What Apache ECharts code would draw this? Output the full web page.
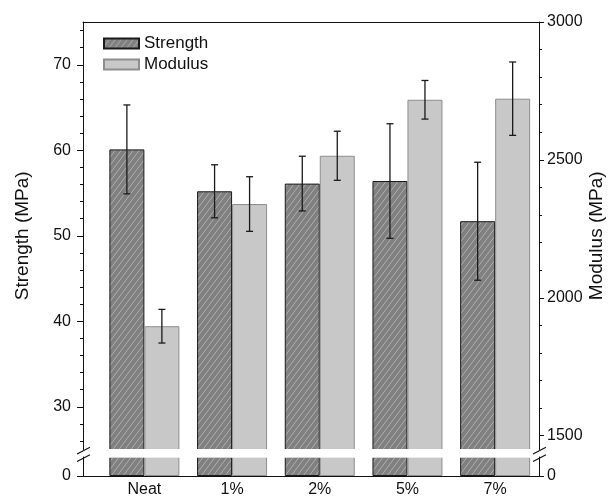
<!DOCTYPE html>
<html><head><meta charset="utf-8">
<script src="https://cdn.jsdelivr.net/npm/echarts@6/dist/echarts.min.js"></script>
<style>html,body{margin:0;padding:0;background:#fff}#c{width:608px;height:498px}</style>
</head><body><div id="c"></div>
<script>
// ---- data ----
const categories = ['Neat', '1%', '2%', '5%', '7%'];
const strength = [60.1, 55.2, 56.1, 56.4, 51.7];
const strengthErr = [5.2, 3.1, 3.2, 6.7, 6.9];
const modulus = [1897, 2340, 2515, 2718, 2722];
const modulusErr = [61, 99, 89, 70, 133];
const strengthTicks = [30, 40, 50, 60, 70];
const strengthMinorTicks = [26, 28, 32, 34, 36, 38, 42, 44, 46, 48, 52, 54, 56, 58, 62, 64, 66, 68, 72, 74];
const modulusTicks = [1500, 2000, 2500, 3000];
const modulusMinorTicks = [1600, 1700, 1800, 1900, 2100, 2200, 2300, 2400, 2600, 2700, 2800, 2900];
const zeroTicks = [0];

// ---- style ----
const FONT = 'Liberation Sans, Arial, sans-serif';
const BAR_W = 35;
const AX = '#111';

function hatch() {
  const c = document.createElement('canvas');
  c.width = 6; c.height = 8;
  const g = c.getContext('2d');
  g.fillStyle = '#808080'; g.fillRect(0, 0, 6, 8);
  g.strokeStyle = 'rgba(210,210,210,0.8)'; g.lineWidth = 0.7;
  g.beginPath();
  g.moveTo(-6, 8); g.lineTo(0, 0);
  g.moveTo(0, 8); g.lineTo(6, 0);
  g.moveTo(6, 8); g.lineTo(12, 0);
  g.stroke();
  return c;
}
const strengthStyle = { color: { image: hatch(), repeat: 'repeat' }, borderColor: '#1a1a1a', borderWidth: 1 };
const modulusStyle = { color: '#c8c8c8', borderColor: '#8e8e8e', borderWidth: 1 };

function errRender(offset) {
  return function (params, api) {
    const x = api.value(0);
    const lo = api.coord([x, api.value(1)]);
    const hi = api.coord([x, api.value(2)]);
    const cx = lo[0] + offset, cap = 3.5;
    const st = { stroke: '#1a1a1a', lineWidth: 1.3 };
    return { type: 'group', children: [
      { type: 'line', shape: { x1: cx, y1: hi[1], x2: cx, y2: lo[1] }, style: st },
      { type: 'line', shape: { x1: cx - cap, y1: hi[1], x2: cx + cap, y2: hi[1] }, style: st },
      { type: 'line', shape: { x1: cx - cap, y1: lo[1], x2: cx + cap, y2: lo[1] }, style: st }
    ]};
  };
}

function yAx(o) {
  return Object.assign({
    type: 'value', splitLine: { show: false },
    axisLine: { show: true, onZero: false, lineStyle: { color: AX, width: 1 } },
    axisTick: { show: true, lineStyle: { color: AX } },
    axisLabel: { color: '#111', fontSize: 16, fontFamily: FONT }
  }, o);
}
const plain = v => String(v);

const sIdx = categories.map((c, i) => i);
const chart = echarts.init(document.getElementById('c'), null, { renderer: 'canvas' });
chart.setOption({
  animation: false,
  backgroundColor: '#fff',
  textStyle: { fontFamily: FONT },
  grid: [
    { left: 83, right: 69, top: 22, height: 427.5, containLabel: false, outerBoundsMode: 'none' },
    { left: 83, right: 69, top: 457, height: 19, containLabel: false, outerBoundsMode: 'none' }
  ],
  legend: {
    left: 98, top: 30, orient: 'vertical', icon: 'rect',
    itemWidth: 35, itemHeight: 10, itemGap: 4,
    textStyle: { fontSize: 17, color: '#111', fontFamily: FONT },
    data: ['Strength', 'Modulus']
  },
  xAxis: [
    { gridIndex: 0, type: 'value', min: -0.7, max: 4.5, position: 'top',
      axisLine: { show: true, onZero: false, lineStyle: { color: AX } },
      axisTick: { show: false }, axisLabel: { show: false }, splitLine: { show: false } },
    { gridIndex: 1, type: 'value', min: -0.7, max: 4.5, position: 'bottom',
      axisLine: { show: true, onZero: false, lineStyle: { color: AX } },
      axisTick: { show: false }, splitLine: { show: false },
      axisLabel: { customValues: sIdx, formatter: v => categories[Math.round(v)] || '',
        fontSize: 16, color: '#111', fontFamily: FONT, margin: 6 } }
  ],
  yAxis: [
    yAx({ gridIndex: 0, position: 'left', min: 25, max: 75,
      axisTick: { show: true, length: 6, customValues: strengthTicks, lineStyle: { color: AX } },
      axisLabel: { customValues: strengthTicks, formatter: plain, fontSize: 16, color: '#111', fontFamily: FONT, margin: 12 },
      name: 'Strength (MPa)', nameLocation: 'middle', nameRotate: 90, nameGap: 51, nameMoveOverlap: false,
      nameTextStyle: { fontSize: 19, color: '#111', fontFamily: FONT } }),
    yAx({ gridIndex: 0, position: 'left', min: 25, max: 75,
      axisLine: { show: false, onZero: false },
      axisTick: { show: true, length: 3, customValues: strengthMinorTicks, lineStyle: { color: AX } },
      axisLabel: { show: false } }),
    yAx({ gridIndex: 0, position: 'right', min: 1450, max: 3000,
      axisTick: { show: true, length: 5, customValues: modulusTicks, lineStyle: { color: AX } },
      axisLabel: { customValues: modulusTicks, formatter: plain, fontSize: 16, color: '#111', fontFamily: FONT, margin: 8 },
      name: 'Modulus (MPa)', nameLocation: 'middle', nameRotate: 90, nameGap: 48, nameMoveOverlap: false,
      nameTextStyle: { fontSize: 19, color: '#111', fontFamily: FONT } }),
    yAx({ gridIndex: 0, position: 'right', min: 1450, max: 3000,
      axisLine: { show: false, onZero: false },
      axisTick: { show: true, length: 3, customValues: modulusMinorTicks, lineStyle: { color: AX } },
      axisLabel: { show: false } }),
    yAx({ gridIndex: 1, position: 'left', min: 0, max: 2.22,
      axisTick: { show: true, length: 6, customValues: zeroTicks, lineStyle: { color: AX } },
      axisLabel: { customValues: zeroTicks, formatter: plain, fontSize: 16, color: '#111', fontFamily: FONT, margin: 12 } }),
    yAx({ gridIndex: 1, position: 'right', min: 0, max: 69,
      axisTick: { show: true, length: 5, customValues: zeroTicks, lineStyle: { color: AX } },
      axisLabel: { customValues: zeroTicks, formatter: plain, fontSize: 16, color: '#111', fontFamily: FONT, margin: 8 } })
  ],
  series: [
    { name: 'Strength', type: 'bar', xAxisIndex: 0, yAxisIndex: 0, clip: true, barWidth: BAR_W, barGap: '0%',
      itemStyle: strengthStyle, data: sIdx.map(i => [i, strength[i]]) },
    { name: 'Modulus', type: 'bar', xAxisIndex: 0, yAxisIndex: 2, clip: true, barWidth: BAR_W, barGap: '0%',
      itemStyle: modulusStyle, data: sIdx.map(i => [i, modulus[i]]) },
    { name: 'Strength', type: 'bar', xAxisIndex: 1, yAxisIndex: 4, clip: true, barWidth: BAR_W, barGap: '0%',
      itemStyle: strengthStyle, data: sIdx.map(i => [i, strength[i]]) },
    { name: 'Modulus', type: 'bar', xAxisIndex: 1, yAxisIndex: 5, clip: true, barWidth: BAR_W, barGap: '0%',
      itemStyle: modulusStyle, data: sIdx.map(i => [i, modulus[i]]) },
    { name: 'Strength', type: 'custom', xAxisIndex: 0, yAxisIndex: 0, z: 5,
      renderItem: errRender(-BAR_W / 2), encode: { x: 0, y: [1, 2] },
      data: sIdx.map(i => [i, strength[i] - strengthErr[i], strength[i] + strengthErr[i]]) },
    { name: 'Modulus', type: 'custom', xAxisIndex: 0, yAxisIndex: 2, z: 5,
      renderItem: errRender(BAR_W / 2), encode: { x: 0, y: [1, 2] },
      data: sIdx.map(i => [i, modulus[i] - modulusErr[i], modulus[i] + modulusErr[i]]) }
  ]
});

// axis-break band and marks
const yTop = chart.convertToPixel({ yAxisIndex: 0 }, 25);
const yBot = chart.convertToPixel({ yAxisIndex: 4 }, 2.22);
const xL = chart.convertToPixel({ xAxisIndex: 1 }, -0.7);
const xR = chart.convertToPixel({ xAxisIndex: 1 }, 4.5);
const ls = { stroke: '#111', lineWidth: 1.2 };
function slash(x, y) {
  return { type: 'line', shape: { x1: x - 6, y1: y + 4.5, x2: x + 7, y2: y - 2.3 }, style: ls, z: 100 };
}
chart.setOption({ graphic: [
  { type: 'rect', shape: { x: xL + 1, y: yTop - 0.6, width: xR - xL - 2, height: yBot - yTop + 1.4 },
    style: { fill: '#fff' }, z: 90 },
  slash(xL, yTop), slash(xL, yBot), slash(xR, yTop), slash(xR, yBot)
]});
</script></body></html>
